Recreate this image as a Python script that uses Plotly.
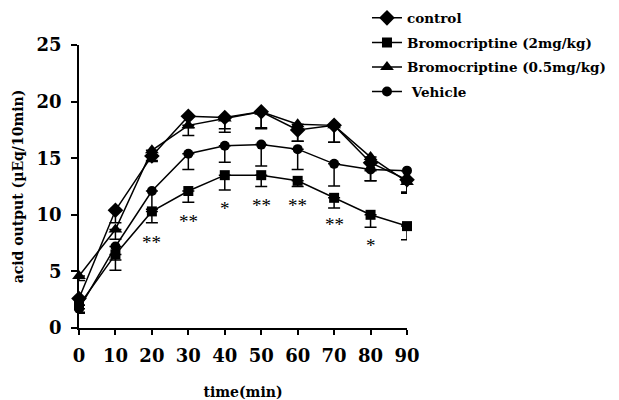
import plotly.graph_objects as go

time = [0, 10, 20, 30, 40, 50, 60, 70, 80, 90]

control = [2.6, 10.4, 15.2, 18.7, 18.6, 19.1, 17.5, 17.9, 14.6, 13.1]
control_err = [0.6, 1.1, 0.5, 1.0, 1.0, 1.5, 1.0, 1.5, 1.6, 1.1]

bromo2 = [2.0, 6.5, 10.3, 12.1, 13.5, 13.5, 13.0, 11.5, 10.0, 9.0]
bromo2_err = [0.6, 1.4, 1.0, 1.0, 1.3, 1.0, 0.5, 0.9, 1.1, 1.2]

bromo05 = [4.6, 8.7, 15.7, 17.9, 18.5, 19.1, 18.0, 17.9, 15.1, 12.9]
bromo05_err = [0.4, 0.85, 0.9, 0.9, 1.2, 1.4, 1.5, 1.5, 1.2, 1.0]

vehicle = [1.7, 7.2, 12.1, 15.4, 16.1, 16.2, 15.8, 14.5, 14.0, 13.9]
vehicle_err = [0.4, 1.2, 1.6, 1.4, 1.45, 1.9, 1.8, 1.95, 1.0, 1.9]

star_x = [20, 30, 40, 50, 60, 70, 80]
star_text = ["**", "**", "*", "**", "**", "**", "*"]
star_y = [7.7, 9.6, 10.7, 11.0, 11.0, 9.3, 7.5]

series = [
    ("control", control, control_err, "diamond", 12),
    ("Bromocriptine (2mg/kg)", bromo2, bromo2_err, "square", 10),
    ("Bromocriptine (0.5mg/kg)", bromo05, bromo05_err, "triangle-up", 12),
    (" Vehicle", vehicle, vehicle_err, "circle", 10),
]

FONT = "DejaVu Serif"

fig = go.Figure()
for i, (name, vals, errs, sym, size) in enumerate(series):
    fig.add_trace(go.Scatter(
        x=time, y=vals, name=name, mode="lines+markers",
        legendgroup=f"g{i}",
        line=dict(color="black", width=1.5),
        marker=dict(symbol=sym, size=size, color="black"),
        error_y=dict(type="data", symmetric=False,
                     array=[0] * len(errs), arrayminus=errs,
                     color="black", thickness=1.5, width=6),
        cliponaxis=False,
    ))

for xs, ys, t in zip(star_x, star_y, star_text):
    fig.add_annotation(x=xs, y=ys, text=t, showarrow=False,
                       font=dict(family="Liberation Serif", size=19, color="#000000"),
                       yshift=-2)

fig.update_layout(
    width=619, height=392,
    margin=dict(l=71, r=220, t=37, b=72, autoexpand=False),
    plot_bgcolor="white", paper_bgcolor="white",
    showlegend=True,
    legend=dict(x=0.878, y=1.15, xanchor="left", yanchor="top",
                font=dict(family=FONT, size=13.5, color="black", weight="bold"),
                tracegroupgap=4, bgcolor="rgba(0,0,0,0)",
                itemwidth=30),
    font=dict(family=FONT, color="black"),
)

fig.update_xaxes(
    range=[0, 90], tickmode="array", tickvals=time,
    showline=True, linecolor="black", linewidth=1.5,
    ticks="outside", ticklen=5, tickcolor="black", tickwidth=1.5,
    showgrid=False, zeroline=False, automargin=False,
    tickfont=dict(family=FONT, size=18, color="black", weight="bold"),
    ticklabelstandoff=6,
    title=dict(text="time(min)", font=dict(family=FONT, size=14, color="black", weight="bold"),
               standoff=24),
)
fig.update_yaxes(
    range=[0, 25], tickvals=[0, 5, 10, 15, 20, 25],
    showline=True, linecolor="black", linewidth=1.5,
    ticks="outside", ticklen=6, tickcolor="black", tickwidth=1.5,
    showgrid=False, zeroline=False, automargin=False,
    tickfont=dict(family=FONT, size=18, color="black", weight="bold"),
    ticklabelstandoff=6,
    title=dict(text="acid output (µEq/10min)", font=dict(family=FONT, size=14, color="black", weight="bold"),
               standoff=10),
)

fig.write_html("out.html")
